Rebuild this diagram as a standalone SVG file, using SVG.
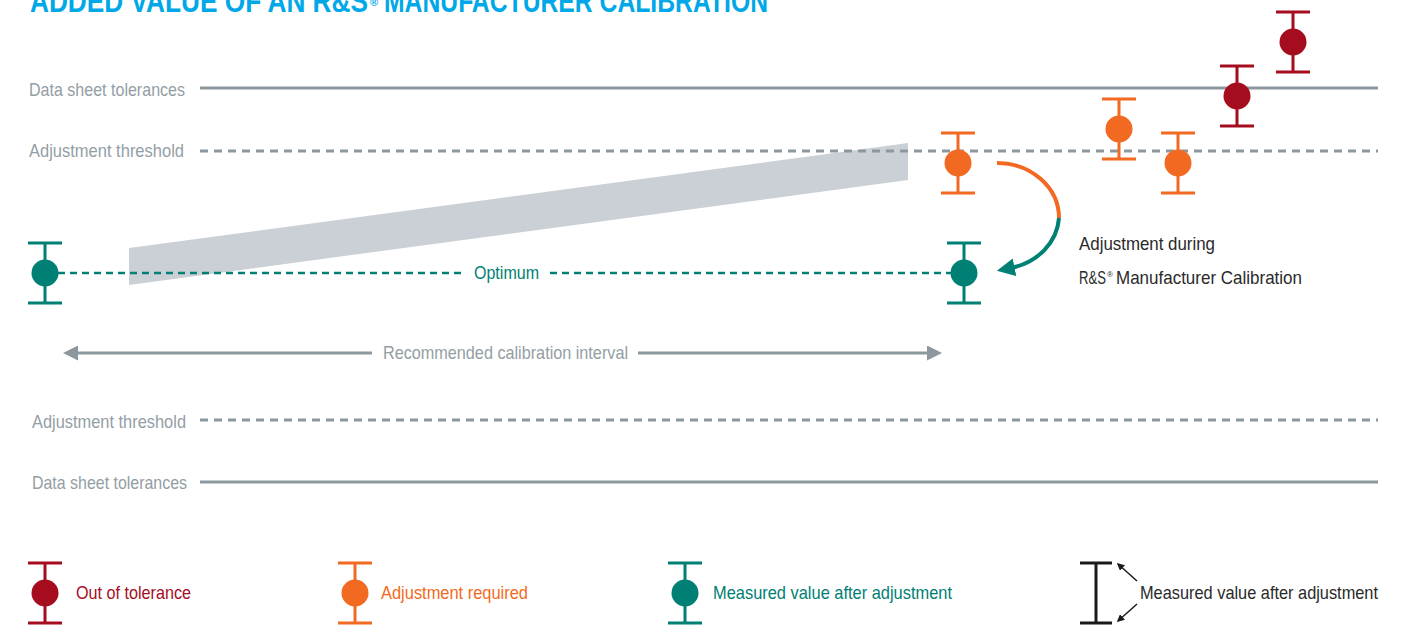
<svg xmlns="http://www.w3.org/2000/svg" width="1408" height="626" viewBox="0 0 1408 626">
<style>
text{font-family:"Liberation Sans","Roboto",sans-serif;}
.lbl{font-size:18.5px;fill:#939ea5;}
.blk{font-size:18.5px;fill:#2a2a2a;}
.sol{stroke:#8c979e;stroke-width:3;fill:none;}
.dsh{stroke:#8c979e;stroke-width:3;fill:none;stroke-dasharray:8 6;}
.red{stroke:#a50d1e;fill:#a50d1e;}
.org{stroke:#f26922;fill:#f26922;}
.tea{stroke:#008074;fill:#008074;}
.bar{stroke-width:3;}
</style>
<defs>
<g id="eb"><path class="bar" d="M-17,-30H17M0,-30V30M-17,30H17" fill="none"/><circle r="13.5" stroke="none"/></g>
<marker id="ah" viewBox="0 0 10 10" refX="2" refY="5" markerWidth="4.5" markerHeight="4.5" orient="auto"><path d="M0,0L10,5L0,10z" fill="#008074"/></marker>
<marker id="ga" viewBox="0 0 10 10" refX="2" refY="5" markerWidth="5" markerHeight="5" orient="auto-start-reverse"><path d="M0,0L10,5L0,10z" fill="#8c979e"/></marker>
<marker id="ka" viewBox="0 0 10 10" refX="8" refY="5" markerWidth="5" markerHeight="5" orient="auto"><path d="M0,0L10,5L0,10z" fill="#1a1a1a"/></marker>
</defs>

<text id="title" x="30" y="12" font-size="31" font-weight="bold" fill="#00a8e8"><tspan textLength="338" lengthAdjust="spacingAndGlyphs">ADDED VALUE OF AN R&amp;S</tspan><tspan x="370" y="6" font-size="11">®</tspan><tspan x="384" y="12" textLength="384" lengthAdjust="spacingAndGlyphs">MANUFACTURER CALIBRATION</tspan></text>

<g id="band"><polygon points="129,248 908,143 908,180 129,285" fill="#cbd0d6"/></g>

<g id="levels">
<text class="lbl" x="29" y="96" textLength="156" lengthAdjust="spacingAndGlyphs">Data sheet tolerances</text>
<line class="sol" x1="200" y1="88" x2="1378" y2="88"/>
<text class="lbl" x="29" y="157" textLength="155" lengthAdjust="spacingAndGlyphs">Adjustment threshold</text>
<line class="dsh" x1="200" y1="151" x2="1378" y2="151"/>
<text class="lbl" x="32" y="428" textLength="154" lengthAdjust="spacingAndGlyphs">Adjustment threshold</text>
<line class="dsh" x1="200" y1="420" x2="1378" y2="420"/>
<text class="lbl" x="32" y="489" textLength="155" lengthAdjust="spacingAndGlyphs">Data sheet tolerances</text>
<line class="sol" x1="200" y1="482" x2="1378" y2="482"/>
</g>

<g id="connectors">
<line x1="58" y1="273" x2="462" y2="273" stroke="#008074" stroke-width="2.5" stroke-dasharray="7 5"/>
<line x1="550" y1="273" x2="952" y2="273" stroke="#008074" stroke-width="2.5" stroke-dasharray="7 5"/>
<path d="M997,163 A62,55 0 0 1 1059,218" fill="none" stroke="#f26922" stroke-width="4"/>
<path d="M1059,218 A62,55 0 0 1 1011,268" fill="none" stroke="#008074" stroke-width="4" marker-end="url(#ah)"/>
<line x1="75" y1="353" x2="372" y2="353" stroke="#8c979e" stroke-width="3" marker-start="url(#ga)"/>
<line x1="638" y1="353" x2="930" y2="353" stroke="#8c979e" stroke-width="3" marker-end="url(#ga)"/>
<line x1="1137" y1="581" x2="1118" y2="564" stroke="#1a1a1a" stroke-width="1.5" marker-end="url(#ka)"/>
<line x1="1137" y1="604" x2="1118" y2="621" stroke="#1a1a1a" stroke-width="1.5" marker-end="url(#ka)"/>
</g>

<text id="optimum" x="474" y="279" font-size="18.5" fill="#008074" textLength="65" lengthAdjust="spacingAndGlyphs">Optimum</text>
<text id="interval" class="lbl" x="383" y="359" textLength="245" lengthAdjust="spacingAndGlyphs">Recommended calibration interval</text>

<g id="adjnote">
<text class="blk" x="1079" y="250" textLength="136" lengthAdjust="spacingAndGlyphs">Adjustment during</text>
<text class="blk" x="1079" y="284"><tspan textLength="27" lengthAdjust="spacingAndGlyphs">R&amp;S</tspan><tspan x="1107" y="277" font-size="8">®</tspan><tspan x="1116" y="284" textLength="186" lengthAdjust="spacingAndGlyphs">Manufacturer Calibration</tspan></text>
</g>

<g id="t1" class="tea"><use href="#eb" x="45" y="273"/></g>
<g id="t2" class="tea"><use href="#eb" x="964" y="273"/></g>
<g id="o1" class="org"><use href="#eb" x="958" y="163"/></g>
<g id="o2" class="org"><use href="#eb" x="1119" y="129"/></g>
<g id="o3" class="org"><use href="#eb" x="1178" y="163"/></g>
<g id="r1" class="red"><use href="#eb" x="1237" y="96"/></g>
<g id="r2" class="red"><use href="#eb" x="1293" y="42"/></g>

<g id="legend-red" class="red"><use href="#eb" x="45" y="593"/><text x="76" y="599" font-size="18.5" stroke="none" textLength="115" lengthAdjust="spacingAndGlyphs">Out of tolerance</text></g>
<g id="legend-org" class="org"><use href="#eb" x="355" y="593"/><text x="381" y="599" font-size="18.5" stroke="none" textLength="147" lengthAdjust="spacingAndGlyphs">Adjustment required</text></g>
<g id="legend-tea" class="tea"><use href="#eb" x="685" y="593"/><text x="713" y="599" font-size="18.5" stroke="none" textLength="239" lengthAdjust="spacingAndGlyphs">Measured value after adjustment</text></g>
<g id="legend-blk"><path d="M1080,563H1112M1096,563V623M1080,623H1112" stroke="#1a1a1a" stroke-width="3" fill="none"/><text class="blk" x="1140" y="599" textLength="238" lengthAdjust="spacingAndGlyphs">Measured value after adjustment</text></g>
</svg>
